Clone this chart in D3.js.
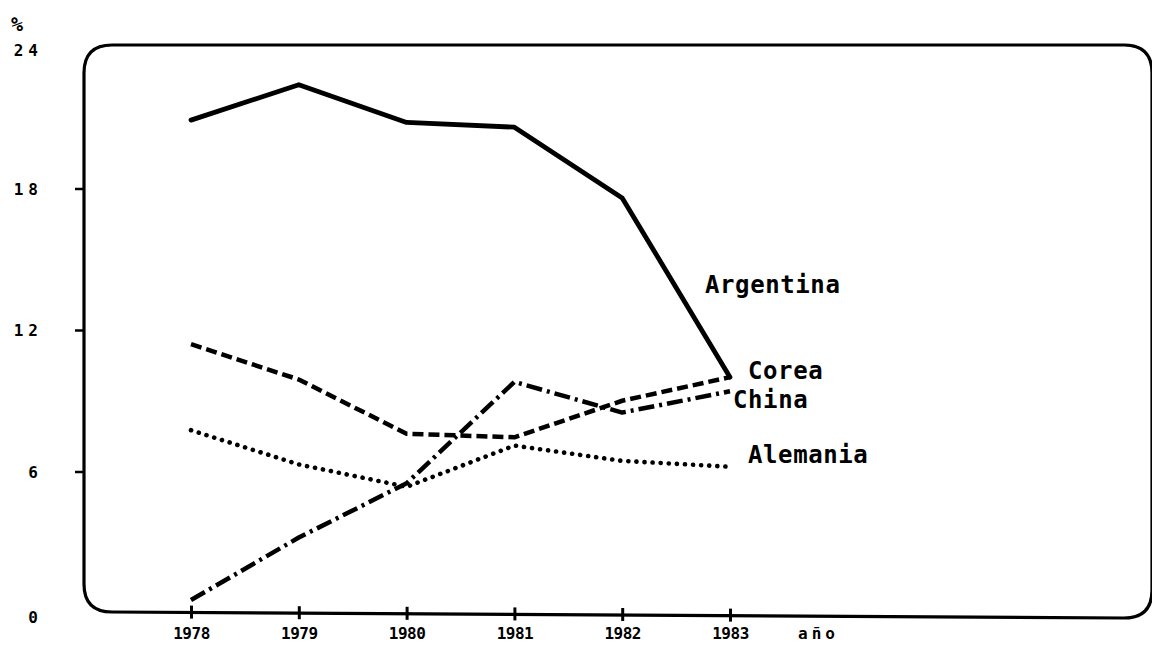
<!DOCTYPE html>
<html><head><meta charset="utf-8">
<script src="https://cdn.jsdelivr.net/npm/d3@7"></script>
<style>
html,body{margin:0;padding:0;background:#fff;}
svg{display:block;}
.lab{font-family:"DejaVu Sans Mono",monospace;font-weight:bold;fill:#000;}
</style></head>
<body>
<svg id="chart" width="1152" height="645"></svg>
<script>
const years = [1978, 1979, 1980, 1981, 1982, 1983];
const argentina = [20.9, 22.4, 20.8, 20.6, 17.6, 10.0];
const corea = [11.4, 9.9, 7.6, 7.45, 9.0, 10.0];
const china = [0.55, 3.2, 5.5, 9.8, 8.5, 9.4];
const alemania = [7.75, 6.3, 5.35, 7.1, 6.45, 6.2];
const yTicks = [0, 6, 12, 18, 24];
const yTickLabels = ["0", "6", "12", "18", "24"];
const xTickLabels = ["1978", "1979", "1980", "1981", "1982", "1983"];
const unitY = "%";
const unitX = "año";

const svg = d3.select("#chart");
const x = d3.scaleLinear().domain([1978, 1983]).range([191, 730]);
const y = d3.scaleLinear().domain([0, 24]).range([613, 47]);

// frame (rounded box, slightly tilted bottom as in the scan)
const L = 84, T = 45, R = 1152, BL = 612, BR = 618, r = 28;
const fr = d3.path();
fr.moveTo(L + r, T);
fr.lineTo(R - r, T);
fr.quadraticCurveTo(R, T, R, T + r);
fr.lineTo(R, BR - r);
fr.quadraticCurveTo(R, BR, R - r, BR);
fr.lineTo(L + r, BL);
fr.quadraticCurveTo(L, BL, L, BL - r);
fr.lineTo(L, T + r);
fr.quadraticCurveTo(L, T, L + r, T);
svg.append("path").attr("d", fr.toString()).attr("fill", "none")
  .attr("stroke", "#000").attr("stroke-width", 3.2);

// y axis ticks and labels
const yAxis = d3.axisLeft(y).tickValues(yTicks).tickSize(9).tickPadding(36)
  .tickFormat((d, i) => yTickLabels[i]);
const gy = svg.append("g").attr("transform", `translate(${L},0)`).call(yAxis);
gy.select(".domain").remove();
gy.selectAll(".tick line").attr("stroke", "#000").attr("stroke-width", 2.5)
  .attr("opacity", d => (d === 0 || d === 24) ? 0 : 1);
gy.selectAll(".tick text").attr("class", "lab").attr("font-size", 16)
  .attr("letter-spacing", 5).attr("x", -41).attr("text-anchor", "end")
  .attr("dy", "0.36em")
  .attr("transform", d => d === 24 ? "translate(0,3)" : (d === 0 ? "translate(0,4)" : null));

svg.append("text").attr("class", "lab").attr("x", 11).attr("y", 31)
  .attr("font-size", 20).attr("letter-spacing", -2).text(unitY);

// x axis ticks and labels
const yBase = yr => BL + (BR - BL) * (x(yr) - L) / (R - L);
const xAxis = d3.axisBottom(x).tickValues(years).tickSize(0).tickPadding(0)
  .tickFormat((d, i) => xTickLabels[i]);
const gx = svg.append("g").call(xAxis);
gx.select(".domain").remove();
gx.selectAll(".tick text").attr("class", "lab").attr("font-size", 16)
  .attr("letter-spacing", -0.5).attr("y", 639).attr("dy", 0);
gx.selectAll(".tick").append("line")
  .attr("x1", 0).attr("x2", 0)
  .attr("y1", d => yBase(d) - 7).attr("y2", d => yBase(d) + 6)
  .attr("stroke", "#000").attr("stroke-width", 3);
svg.append("text").attr("class", "lab").attr("x", 798).attr("y", 639)
  .attr("font-size", 16).attr("letter-spacing", 4).text(unitX);

// series lines
const line = d3.line().x((d, i) => x(years[i])).y(d => y(d));
function draw(data, width, dash, cap) {
  svg.append("path").datum(data).attr("d", line).attr("fill", "none")
    .attr("stroke", "#000").attr("stroke-width", width)
    .attr("stroke-linejoin", "round").attr("stroke-linecap", cap || "butt")
    .attr("stroke-dasharray", dash);
}
draw(argentina, 4.8, null, "round");
draw(corea, 4.5, "11,5");
draw(china, 4.5, "16,5,3,5");
draw(alemania, 4.6, "0.1,8", "round");

// series labels
const labels = [
  {t: "Argentina", x: 705, y: 293},
  {t: "Corea", x: 748, y: 379},
  {t: "China", x: 733, y: 408},
  {t: "Alemania", x: 748, y: 463}
];
svg.selectAll(".slab").data(labels).enter().append("text")
  .attr("class", "lab").attr("x", d => d.x).attr("y", d => d.y)
  .attr("font-size", 24).attr("letter-spacing", 0.6).text(d => d.t);
</script>
</body></html>
